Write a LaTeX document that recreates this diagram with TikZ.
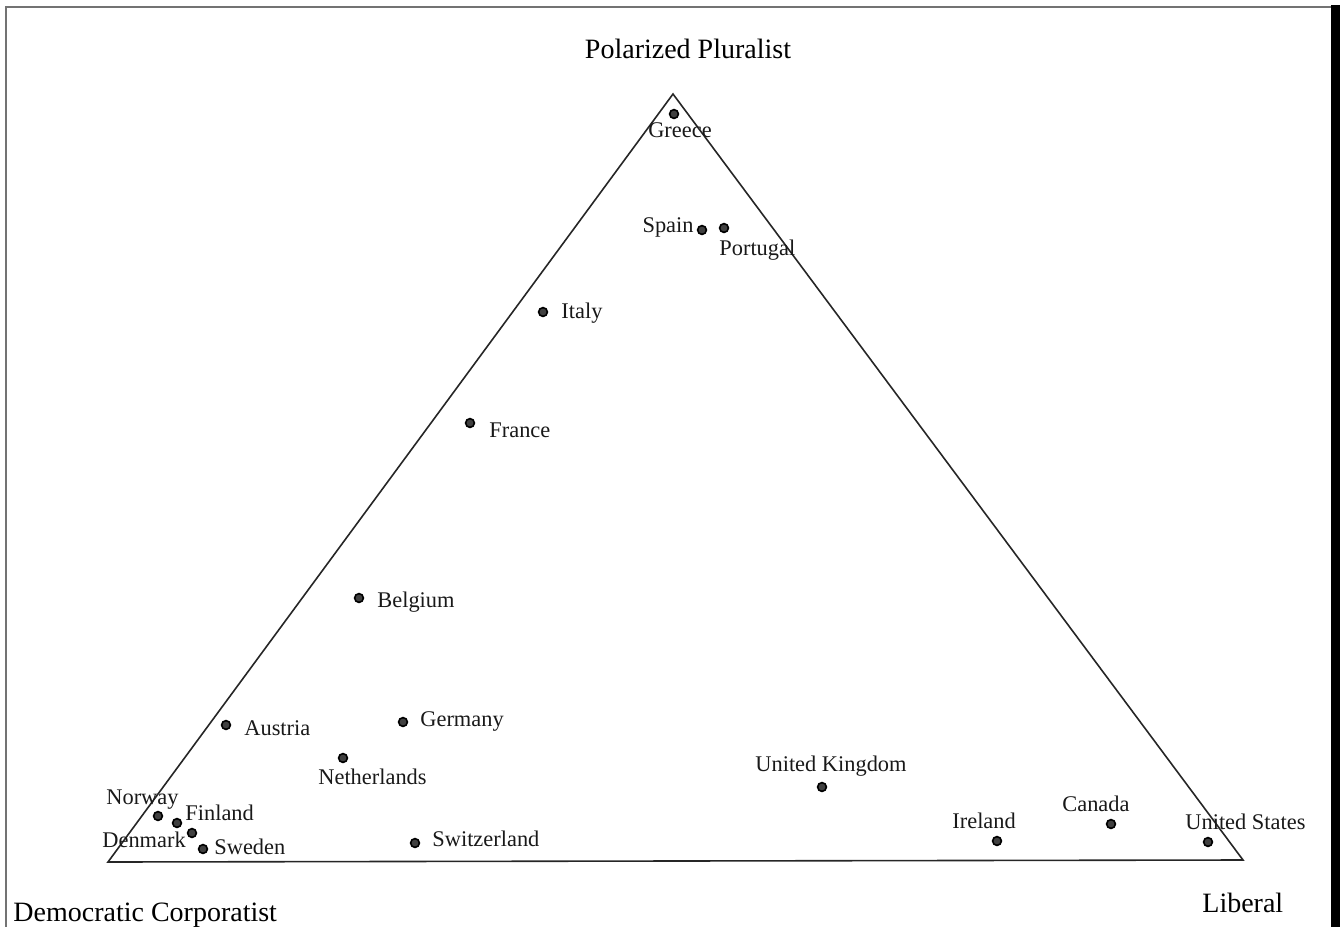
\documentclass[tikz,border=0pt]{standalone}
\usepackage{fontspec}
\setmainfont{Liberation Serif}
\begin{document}
\begin{tikzpicture}[x=0.5pt,y=-0.5pt,
  country/.style={circle,draw=black,fill=black!75,line width=0.8pt,inner sep=0pt,minimum size=4.4pt},
  lbl/.style={inner sep=0pt,font=\fontsize{11.2}{13}\selectfont,text=black!90},
  corner/.style={inner sep=0pt,font=\fontsize{14}{16}\selectfont,text=black},
  edge/.style={draw=black!85,line width=0.8pt}]
\useasboundingbox (0,0) rectangle (1340,927);
% frame
\draw[black!55,line width=1.2pt] (6,927) -- (6,7) -- (1332,7);
\fill[black] (1331,5) rectangle (1340,927);
% triangle
\coordinate (top) at (673,94);
\coordinate (dc) at (108,862);
\coordinate (lib) at (1243,860);
\draw[edge] (top) -- (dc) -- (lib) -- cycle;
% corner labels
\node[corner,anchor=base] (tPP) at (688,58) {Polarized Pluralist};
\node[corner,anchor=base west] (tDC) at (13,921) {Democratic Corporatist};
\node[corner,anchor=base west] (tLI) at (1202,912) {Liberal};
% countries
\node[country] (gre) at (674,114) {};
\node[lbl,anchor=base] (lgre) at (680,137) {Greece};
\node[country] (esp) at (702,230) {};
\node[lbl,anchor=base east] (lesp) at (694,232) {Spain};
\node[country] (por) at (724,228) {};
\node[lbl,anchor=base west] (lpor) at (719,255) {Portugal};
\node[country] (ita) at (543,312) {};
\node[lbl,anchor=base west] (lita) at (561,318) {Italy};
\node[country] (fra) at (470,423) {};
\node[lbl,anchor=base west] (lfra) at (489,437) {France};
\node[country] (bel) at (359,598) {};
\node[lbl,anchor=base west] (lbel) at (377,607) {Belgium};
\node[country] (aut) at (226,725) {};
\node[lbl,anchor=base west] (laut) at (244,735) {Austria};
\node[country] (ger) at (403,722) {};
\node[lbl,anchor=base west] (lger) at (420,726) {Germany};
\node[country] (ned) at (343,758) {};
\node[lbl,anchor=base west] (lned) at (318,784) {Netherlands};
\node[country] (sui) at (415,843) {};
\node[lbl,anchor=base west] (lsui) at (432,846) {Switzerland};
\node[country] (uk) at (822,787) {};
\node[lbl,anchor=base west] (luk) at (755,771) {United Kingdom};
\node[country] (irl) at (997,841) {};
\node[lbl,anchor=base west] (lirl) at (952,828) {Ireland};
\node[country] (can) at (1111,824) {};
\node[lbl,anchor=base west] (lcan) at (1062,811) {Canada};
\node[country] (usa) at (1208,842) {};
\node[lbl,anchor=base west] (lusa) at (1185,829) {United States};
\node[country] (nor) at (158,816) {};
\node[lbl,anchor=base west] (lnor) at (106,804) {Norway};
\node[country] (fin) at (177,823) {};
\node[lbl,anchor=base west] (lfin) at (185,820) {Finland};
\node[country] (den) at (192,833) {};
\node[lbl,anchor=base west] (lden) at (102,847) {Denmark};
\node[country] (swe) at (203,849) {};
\node[lbl,anchor=base west] (lswe) at (214,854) {Sweden};
\end{tikzpicture}
\end{document}
